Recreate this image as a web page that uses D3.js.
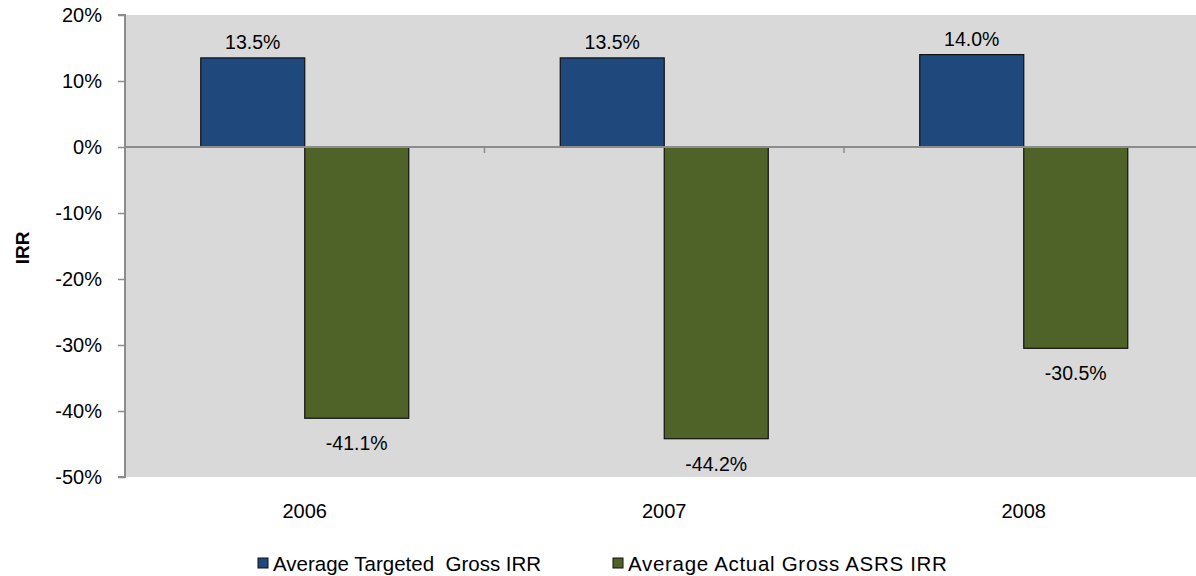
<!DOCTYPE html>
<html>
<head>
<meta charset="utf-8">
<script src="https://cdn.jsdelivr.net/npm/d3@7/dist/d3.min.js"></script>
<style>
  html, body { margin: 0; padding: 0; background: #ffffff; }
  svg { display: block; font-family: "Liberation Sans", Arial, sans-serif; }
</style>
</head>
<body>
<svg id="chart" width="1196" height="576"></svg>
<script>
const categories = ["2006", "2007", "2008"];
const seriesNames = ["Average Targeted  Gross IRR", "Average Actual Gross ASRS IRR"];
const targetedValues = [13.5, 13.5, 14.0];
const actualValues = [-41.1, -44.2, -30.5];
const yTickValues = [20, 10, 0, -10, -20, -30, -40, -50];
const seriesColors = ["#1F497D", "#4F6228"];

const svg = d3.select("#chart");
const plot = { left: 125, right: 1203.5, top: 15, bottom: 477 };

const x0 = d3.scaleBand().domain(categories).range([plot.left, plot.right]).paddingInner(0).paddingOuter(0);
const bw = x0.bandwidth();
const gap = bw * 0.2107;
const x1 = d3.scaleBand().domain(seriesNames).range([gap, bw - gap]).padding(0);
const y = d3.scaleLinear().domain([-50, 20]).range([plot.bottom, plot.top]);

// plot background
svg.append("rect")
  .attr("x", plot.left).attr("y", plot.top)
  .attr("width", plot.right - plot.left).attr("height", plot.bottom - plot.top)
  .attr("fill", "#D9D9D9");

const data = categories.map((c, i) => ({
  cat: c,
  vals: [
    { s: seriesNames[0], v: targetedValues[i], color: seriesColors[0] },
    { s: seriesNames[1], v: actualValues[i], color: seriesColors[1] }
  ]
}));

// bars
const groups = svg.append("g").selectAll("g").data(data).join("g")
  .attr("transform", d => `translate(${x0(d.cat)},0)`);

groups.selectAll("rect").data(d => d.vals).join("rect")
  .attr("x", d => x1(d.s))
  .attr("width", x1.bandwidth())
  .attr("y", d => y(Math.max(0, d.v)))
  .attr("height", d => Math.abs(y(d.v) - y(0)))
  .attr("fill", d => d.color)
  .attr("stroke", "#111")
  .attr("stroke-width", 1.2);

// value labels
groups.selectAll("text").data(d => d.vals).join("text")
  .attr("x", d => x1(d.s) + x1.bandwidth() / 2)
  .attr("y", d => d.v >= 0 ? y(d.v) - 9 : y(d.v) + 32)
  .attr("text-anchor", "middle")
  .attr("font-size", 19.5)
  .attr("fill", "#000")
  .text(d => d.v.toFixed(1) + "%");

// zero line
svg.append("line")
  .attr("x1", plot.left).attr("x2", plot.right)
  .attr("y1", y(0)).attr("y2", y(0))
  .attr("stroke", "#8C8C8C").attr("stroke-width", 2);

// category tick marks below zero line
const boundaries = categories.slice(1).map(c => x0(c)).concat([plot.right]);
svg.append("g").selectAll("line").data(boundaries).join("line")
  .attr("x1", d => d).attr("x2", d => d)
  .attr("y1", y(0)).attr("y2", y(0) + 6)
  .attr("stroke", "#8C8C8C").attr("stroke-width", 1.5);

// y axis
const yAxis = d3.axisLeft(y).tickValues(yTickValues).tickSize(7).tickPadding(16)
  .tickFormat(d => d + "%");
const ya = svg.append("g").attr("transform", `translate(${plot.left},0)`).call(yAxis);
ya.select(".domain").attr("stroke", "#8C8C8C").attr("stroke-width", 2).attr("d", `M-7,${plot.top}H0V${plot.bottom}H-7`);
ya.selectAll(".tick line").attr("stroke", "#8C8C8C").attr("stroke-width", 1.5);
ya.selectAll(".tick text").attr("font-size", 20).attr("fill", "#000")
  .attr("font-family", "Liberation Sans, Arial, sans-serif");

// x category labels
svg.append("g").selectAll("text").data(categories).join("text")
  .attr("x", d => x0(d) + bw / 2)
  .attr("y", 518)
  .attr("text-anchor", "middle")
  .attr("font-size", 20)
  .attr("fill", "#000")
  .text(d => d);

// y axis title
svg.append("text")
  .attr("transform", `translate(29,${(y(-50) + y(20)) / 2 + 2}) rotate(-90)`)
  .attr("text-anchor", "middle")
  .attr("font-size", 19)
  .attr("font-weight", "bold")
  .attr("fill", "#000")
  .text("IRR");

// legend
const legendX = [258, 613];
const legendSpacing = [0, 0.7];
const legend = svg.append("g").selectAll("g").data(seriesNames).join("g")
  .attr("transform", (d, i) => `translate(${legendX[i]},563)`);
legend.append("rect")
  .attr("x", 0).attr("y", -5).attr("width", 10).attr("height", 10)
  .attr("fill", (d, i) => seriesColors[i])
  .attr("stroke", "#111").attr("stroke-width", 1);
legend.append("text")
  .attr("x", 15).attr("y", 7.5)
  .attr("font-size", 20.5)
  .attr("fill", "#000")
  .attr("letter-spacing", (d, i) => legendSpacing[i])
  .attr("xml:space", "preserve")
  .style("white-space", "pre")
  .text(d => d);
</script>
</body>
</html>
